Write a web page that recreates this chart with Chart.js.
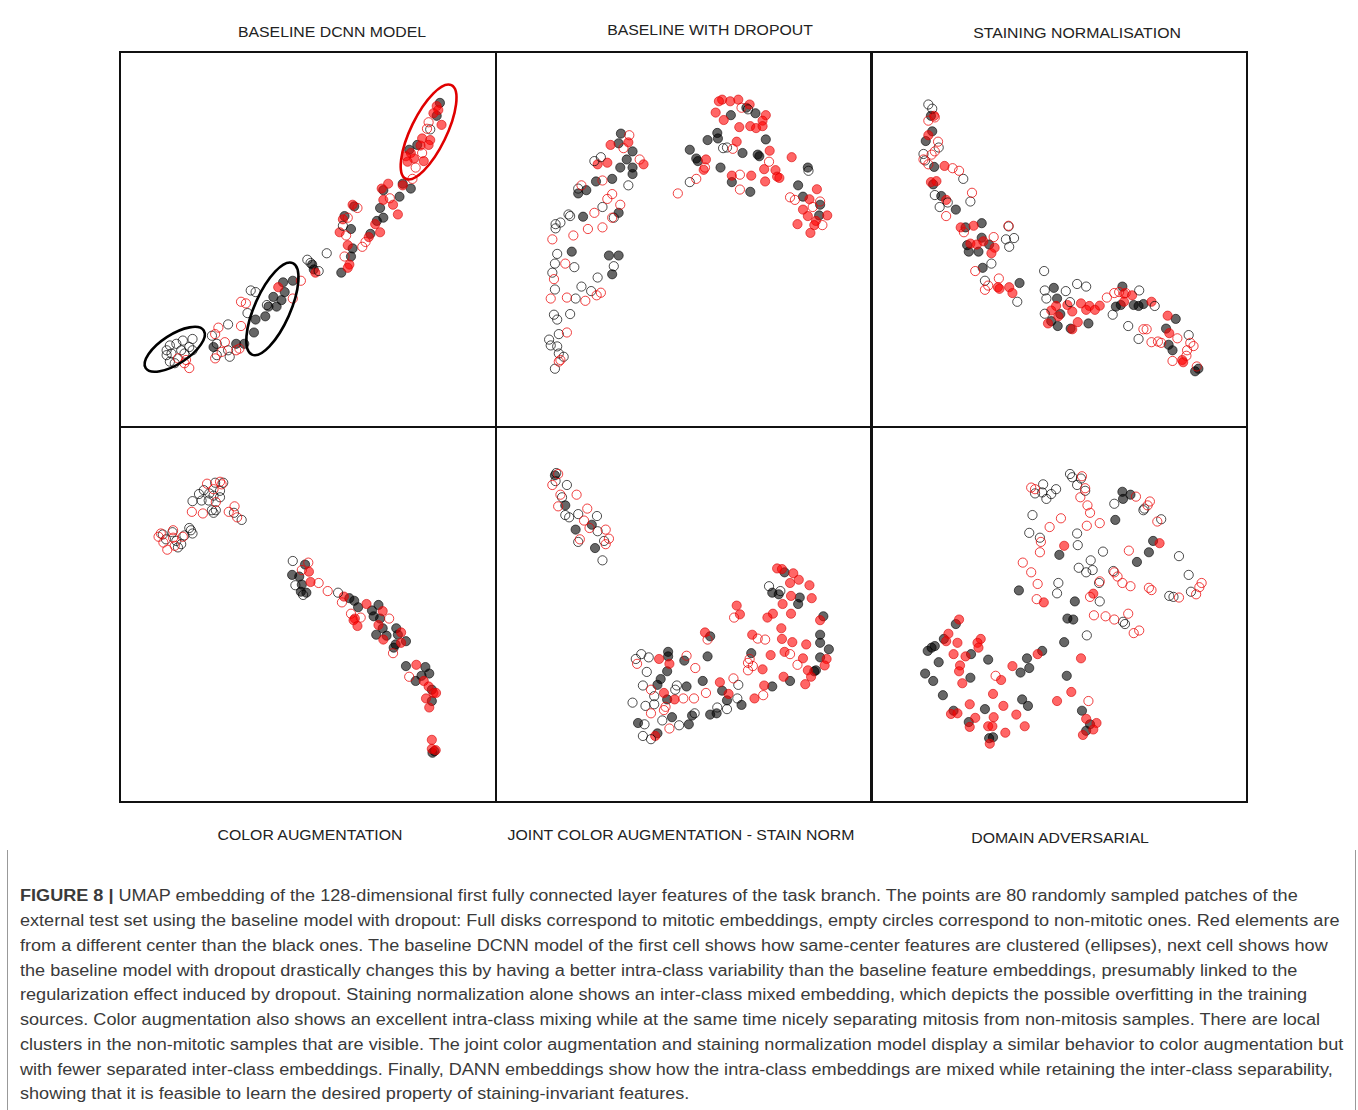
<!DOCTYPE html>
<html>
<head>
<meta charset="utf-8">
<script src="https://cdn.jsdelivr.net/npm/chart.js@4.4.1/dist/chart.umd.min.js"></script>
<style>
  body { margin: 0; background: #fff; width: 1358px; height: 1110px; position: relative; overflow: hidden; font-family: "Liberation Sans", Arial, sans-serif; }
  .panel { position: absolute; width: 376px; height: 376px; }
  .frame { position: absolute; width: 378px; height: 377px; box-sizing: border-box; border: 2px solid #111; pointer-events: none; }
  .title { position: absolute; font-size: 14px; color: #222; white-space: nowrap; transform: translate(-50%, -50%) scaleX(1.13); }
  .caption { position: absolute; left: 0; top: 850px; width: 1358px; height: 260px; }
  .caption .edge { position: absolute; top: 0; width: 1px; height: 260px; background: #999; }
  .caption .line { position: absolute; left: 20px; font-size: 16px; color: #3a3a3a; white-space: nowrap; transform: scaleX(1.13); transform-origin: 0 50%; }
</style>
</head>
<body>

<div class="panel" style="left:119px; top:52px;"><canvas id="c0" width="376" height="376"></canvas></div>
<div class="panel" style="left:495px; top:52px;"><canvas id="c1" width="376" height="376"></canvas></div>
<div class="panel" style="left:871px; top:52px;"><canvas id="c2" width="376" height="376"></canvas></div>
<div class="panel" style="left:119px; top:427px;"><canvas id="c3" width="376" height="376"></canvas></div>
<div class="panel" style="left:495px; top:427px;"><canvas id="c4" width="376" height="376"></canvas></div>
<div class="panel" style="left:871px; top:427px;"><canvas id="c5" width="376" height="376"></canvas></div>

<div class="frame" style="left:119px; top:51px;"></div>
<div class="frame" style="left:495px; top:51px;"></div>
<div class="frame" style="left:870px; top:51px;"></div>
<div class="frame" style="left:119px; top:426px;"></div>
<div class="frame" style="left:495px; top:426px;"></div>
<div class="frame" style="left:870px; top:426px;"></div>

<div class="title" style="left:332px; top:32px;">BASELINE DCNN MODEL</div>
<div class="title" style="left:710px; top:30px;">BASELINE WITH DROPOUT</div>
<div class="title" style="left:1077px; top:33px;">STAINING NORMALISATION</div>
<div class="title" style="left:310px; top:835px;">COLOR AUGMENTATION</div>
<div class="title" style="left:681px; top:835px;">JOINT COLOR AUGMENTATION - STAIN NORM</div>
<div class="title" style="left:1060px; top:838px;">DOMAIN ADVERSARIAL</div>

<div class="caption">
  <div class="edge" style="left:7px;"></div>
  <div class="edge" style="left:1355px;"></div>
  <div class="line" style="top:37px;"><b>FIGURE 8 |</b> UMAP embedding of the 128-dimensional first fully connected layer features of the task branch. The points are 80 randomly sampled patches of the</div>
  <div class="line" style="top:62px;">external test set using the baseline model with dropout: Full disks correspond to mitotic embeddings, empty circles correspond to non-mitotic ones. Red elements are</div>
  <div class="line" style="top:87px;">from a different center than the black ones. The baseline DCNN model of the first cell shows how same-center features are clustered (ellipses), next cell shows how</div>
  <div class="line" style="top:112px;">the baseline model with dropout drastically changes this by having a better intra-class variability than the baseline feature embeddings, presumably linked to the</div>
  <div class="line" style="top:136px;">regularization effect induced by dropout. Staining normalization alone shows an inter-class mixed embedding, which depicts the possible overfitting in the training</div>
  <div class="line" style="top:161px;">sources. Color augmentation also shows an excellent intra-class mixing while at the same time nicely separating mitosis from non-mitosis samples. There are local</div>
  <div class="line" style="top:186px;">clusters in the non-mitotic samples that are visible. The joint color augmentation and staining normalization model display a similar behavior to color augmentation but</div>
  <div class="line" style="top:211px;">with fewer separated inter-class embeddings. Finally, DANN embeddings show how the intra-class embeddings are mixed while retaining the inter-class separability,</div>
  <div class="line" style="top:235px;">showing that it is feasible to learn the desired property of staining-invariant features.</div>
</div>

<script>
// UMAP coordinates (arbitrary units, y grows downwards)
// red = other center, black = same center; disk = mitotic, circle = non-mitotic

// baseline DCNN model
const dcnnRedDisk = [[965,150],[970,162],[955,172],[980,208],[920,250],[945,255],[940,270],[915,272],[885,295],[895,312],[870,305],[875,322],[925,320],[815,390],[795,405],[860,395],[800,440],[830,455],[845,485],[775,515],[790,540],[705,455],[675,500],[665,540],[755,555],[690,580],[695,640],[690,650],[590,665],[475,710]];
const dcnnBlackDisk = [[975,140],[965,180],[905,270],[880,285],[860,390],[800,410],[885,405],[850,430],[790,465],[800,495],[780,505],[710,460],[680,490],[700,530],[760,545],[705,590],[700,615],[670,665],[580,640],[585,655],[520,690],[490,695],[495,725],[460,740],[485,750],[470,770],[445,770],[435,800],[405,810],[400,850],[370,885],[345,885],[275,895]];
const dcnnRedCircle = [[940,200],[935,220],[920,295],[900,340],[890,375],[820,435],[720,465],[690,495],[685,550],[745,570],[735,585],[680,615],[545,690],[520,745],[375,760],[360,755],[360,830],[290,835],[280,855],[355,900],[310,880],[300,910],[280,930],[345,905],[165,930],[190,935],[200,960],[185,945]];
const dcnnBlackCircle = [[945,222],[675,520],[625,605],[575,635],[600,660],[565,625],[405,725],[390,720],[440,765],[380,790],[320,825],[270,860],[285,885],[320,905],[285,920],[325,925],[210,870],[180,875],[160,885],[140,890],[200,895],[130,905],[175,905],[210,905],[145,915],[185,915],[130,920],[140,940],[155,945]];
// same-center clusters marked in the first cell: centre, semi-axes, tilt (deg)
const dcnnEllipses = [
  { cx: 940, cy: 230, rx: 161, ry: 55, tilt: -64, color: '#e00000' },
  { cx: 457, cy: 777, rx: 155, ry: 55, tilt: -66, color: '#000' },
  { cx: 155, cy: 902, rx: 107, ry: 45, tilt: -33, color: '#000' }
];

// baseline with dropout
const dropRedDisk = [[395,262],[340,270],[300,330],[330,325],[442,330],[685,130],[675,135],[710,135],[735,130],[770,145],[665,170],[820,178],[690,193],[810,195],[738,215],[772,212],[790,218],[810,212],[730,260],[832,288],[635,315],[628,347],[900,308],[815,345],[850,348],[715,365],[775,365],[855,368],[862,372],[818,383],[978,407],[955,438],[935,470],[950,490],[1010,488],[975,505],[918,515],[970,518],[958,542]];
const dropBlackDisk = [[372,235],[365,265],[408,290],[390,315],[370,340],[408,340],[408,360],[345,375],[295,383],[265,410],[240,420],[365,480],[255,492],[220,600],[335,612],[365,612],[345,670],[760,155],[712,178],[788,172],[670,233],[672,250],[640,255],[820,253],[585,285],[748,295],[795,300],[800,305],[605,312],[610,320],[680,340],[950,340],[715,385],[772,415],[920,395],[935,430],[988,455],[985,488]];
const dropRedCircle = [[398,240],[380,280],[430,315],[315,380],[250,395],[345,422],[330,437],[370,455],[290,480],[345,495],[270,530],[315,525],[225,550],[160,562],[200,637],[165,685],[310,727],[297,735],[155,745],[205,742],[262,752],[205,850],[185,935],[180,940],[548,420],[605,375],[745,155],[718,282],[632,340],[830,322],[740,362],[740,408],[895,432],[910,440],[988,445],[965,462],[995,518]];
const dropBlackCircle = [[290,320],[310,308],[395,395],[240,405],[315,462],[350,495],[210,485],[215,490],[185,510],[170,515],[170,528],[175,607],[168,637],[228,648],[350,645],[160,665],[300,680],[250,708],[168,717],[280,722],[232,745],[165,795],[215,793],[175,810],[180,855],[150,872],[155,890],[175,893],[180,915],[195,925],[168,962],[585,385],[765,160],[700,278],[688,280],[952,350]];

// staining normalisation
const stainRedDisk = [[178,180],[160,240],[210,335],[168,385],[185,382],[215,440],[260,525],[300,520],[290,575],[310,578],[330,568],[365,588],[355,605],[375,710],[380,715],[410,710],[420,728],[555,768],[590,765],[632,760],[658,768],[690,767],[765,730],[790,735],[765,755],[850,755],[540,782],[562,800],[605,785],[648,780],[675,780],[530,822],[622,818],[605,840],[900,798],[905,852],[945,935],[948,942]];
const stainBlackDisk = [[168,180],[172,228],[152,258],[178,338],[175,392],[200,428],[245,470],[275,525],[325,512],[325,557],[280,580],[348,578],[285,600],[315,600],[328,650],[442,697],[548,712],[558,745],[760,708],[755,765],[740,770],[795,765],[825,762],[810,768],[568,793],[540,815],[560,830],[655,822],[600,838],[925,808],[895,838],[903,888],[915,905],[985,970],[995,962]];
const stainRedCircle = [[180,185],[160,195],[190,260],[180,290],[170,300],[145,315],[160,330],[235,342],[255,350],[295,418],[215,490],[408,520],[270,540],[362,555],[305,660],[345,705],[335,718],[378,683],[712,742],[735,728],[750,725],[770,728],[825,840],[835,840],[850,880],[870,878],[880,882],[930,868],[970,882],[980,892],[960,905],[958,922],[915,938],[990,955]];
const stainBlackCircle = [[160,145],[172,158],[192,278],[145,298],[150,318],[268,375],[180,425],[290,445],[220,448],[195,462],[408,522],[400,562],[425,558],[410,585],[355,637],[335,690],[435,755],[518,660],[620,700],[648,708],[520,720],[585,722],[525,745],[598,756],[812,720],[860,768],[520,792],[730,795],[778,830],[965,858],[810,870]];

// color augmentation
const colorRedDisk = [[570,430],[575,462],[678,507],[748,530],[798,552],[712,575],[708,580],[720,598],[785,595],[855,618],[800,640],[855,650],[902,718],[925,768],[955,805],[940,785],[963,805],[932,822],[942,850],[950,950],[950,978],[962,982]];
const colorBlackDisk = [[558,408],[518,440],[540,445],[548,470],[545,492],[562,495],[695,512],[710,520],[722,540],[785,533],[765,550],[770,568],[790,575],[798,605],[840,605],[778,625],[810,628],[845,625],[870,645],[838,655],[832,665],[870,722],[930,725],[918,752],[942,745],[900,768],[950,795],[950,830],[958,985],[952,990]];
const colorRedCircle = [[255,158],[295,152],[300,160],[275,175],[282,215],[208,245],[242,250],[340,228],[322,245],[348,262],[112,312],[150,302],[180,322],[105,322],[150,325],[120,340],[155,350],[132,362],[568,402],[548,425],[600,465],[628,490],[672,525],[700,560],[730,572],[818,575],[830,682],[880,755]];
const colorBlackCircle = [[280,155],[305,155],[245,178],[295,180],[230,190],[262,188],[275,195],[210,212],[238,210],[260,210],[295,200],[270,240],[282,240],[275,248],[338,248],[362,270],[200,295],[205,302],[185,318],[210,312],[118,315],[148,308],[128,330],[160,335],[175,345],[165,355],[520,397],[528,472],[552,502],[660,495]];

// joint color augmentation - stain norm
const jointRedDisk = [[855,420],[870,422],[905,435],[922,455],[895,465],[955,472],[898,505],[962,512],[872,530],[730,535],[740,562],[842,560],[825,572],[898,560],[988,580],[868,605],[632,618],[778,625],[870,638],[902,648],[945,655],[878,678],[835,688],[935,698],[1008,700],[1002,720],[810,732],[950,735],[960,755],[942,778],[875,755],[490,700],[522,715],[678,772],[705,808],[815,782],[785,822],[505,805],[538,825],[478,938]];
const jointBlackDisk = [[168,132],[200,225],[282,285],[232,300],[292,357],[878,432],[840,495],[860,500],[925,510],[920,530],[998,568],[648,630],[988,625],[988,650],[1015,670],[775,682],[988,695],[970,738],[975,735],[895,768],[640,692],[568,705],[518,678],[518,692],[515,738],[495,762],[485,780],[625,768],[685,798],[840,785],[575,785],[515,825],[700,828],[745,842],[592,875],[648,872],[668,868],[530,880],[425,898],[582,902],[485,930]];
const jointRedCircle = [[178,128],[160,162],[185,192],[235,192],[178,228],[268,235],[258,272],[275,295],[325,300],[335,328],[245,330],[325,345],[722,572],[640,640],[818,640],[795,637],[895,685],[918,718],[770,700],[765,712],[780,722],[765,735],[575,690],[422,715],[602,728],[720,760],[812,812],[465,795],[565,822],[598,822],[635,805],[510,848],[505,858],[465,868],[522,915]];
const jointBlackCircle = [[172,125],[170,150],[205,162],[190,200],[200,255],[212,262],[240,252],[298,258],[300,305],[240,338],[320,335],[315,395],[830,475],[865,490],[435,685],[458,695],[418,700],[452,740],[735,780],[440,782],[545,782],[540,795],[475,815],[408,835],[448,845],[475,840],[732,822],[670,850],[700,855],[600,868],[500,890],[445,902],[552,905],[440,938],[465,948]];

// domain adversarial
const dannRedDisk = [[580,350],[875,342],[517,525],[670,498],[255,578],[222,622],[215,645],[250,650],[238,685],[275,692],[322,638],[312,650],[315,665],[258,720],[255,738],[265,775],[385,765],[420,722],[498,685],[632,698],[288,840],[360,808],[392,845],[230,870],[250,868],[305,882],[288,910],[362,880],[432,872],[345,908],[358,908],[398,928],[458,908],[350,962],[558,830],[602,802],[648,885],[680,898],[670,918],[638,935]];
const dannBlackDisk = [[760,183],[785,192],[762,205],[738,270],[855,335],[565,378],[842,370],[805,400],[440,488],[613,522],[590,575],[608,578],[245,592],[208,638],[180,660],[170,665],[158,675],[292,685],[192,710],[345,702],[150,745],[175,768],[290,758],[445,742],[472,728],[465,698],[512,675],[580,648],[588,752],[205,812],[450,825],[468,845],[335,855],[238,860],[285,895],[348,945],[360,942],[635,860],[660,902],[648,922]];
const dannRedCircle = [[635,135],[478,170],[490,175],[645,172],[630,200],[652,225],[660,248],[802,198],[845,213],[838,225],[570,265],[535,292],[650,288],[690,280],[868,275],[508,338],[505,370],[780,365],[452,402],[478,432],[735,432],[745,445],[690,460],[760,465],[785,475],[842,480],[850,487],[1005,465],[998,478],[988,500],[498,468],[495,515],[935,510],[660,508],[672,565],[708,568],[735,578],[778,560],[795,620],[812,612],[368,752],[655,830]];
const dannBlackCircle = [[598,128],[605,138],[632,142],[515,160],[490,188],[512,185],[555,175],[540,190],[525,205],[620,162],[645,180],[735,220],[825,240],[828,235],[482,255],[880,268],[472,310],[505,325],[620,312],[622,348],[700,368],[935,382],[625,418],[648,432],[662,395],[668,425],[732,428],[688,465],[965,440],[972,492],[562,465],[558,497],[905,505],[918,508],[690,522],[762,585],[768,592],[650,627]];

const panels = [
  { id: 'c0', sets: [dcnnRedCircle, dcnnBlackCircle, dcnnRedDisk, dcnnBlackDisk], ellipses: dcnnEllipses },
  { id: 'c1', sets: [dropRedCircle, dropBlackCircle, dropRedDisk, dropBlackDisk] },
  { id: 'c2', sets: [stainRedCircle, stainBlackCircle, stainRedDisk, stainBlackDisk] },
  { id: 'c3', sets: [colorRedCircle, colorBlackCircle, colorRedDisk, colorBlackDisk] },
  { id: 'c4', sets: [jointRedCircle, jointBlackCircle, jointRedDisk, jointBlackDisk] },
  { id: 'c5', sets: [dannRedCircle, dannBlackCircle, dannRedDisk, dannBlackDisk] }
];

const styles = [
  { label: 'non-mitotic (red)',   backgroundColor: 'rgba(0,0,0,0)',    borderColor: 'rgba(235,0,0,0.75)' },
  { label: 'non-mitotic (black)', backgroundColor: 'rgba(0,0,0,0)',    borderColor: 'rgba(0,0,0,0.7)' },
  { label: 'mitotic (red)',       backgroundColor: 'rgba(255,0,0,0.6)', borderColor: 'rgba(215,0,0,0.6)' },
  { label: 'mitotic (black)',     backgroundColor: 'rgba(0,0,0,0.6)',  borderColor: 'rgba(0,0,0,0.6)' }
];

// draws the cluster ellipses through the chart scales
const ellipsePlugin = {
  id: 'ellipses',
  afterDatasetsDraw(chart, args, opts) {
    if (!opts.items) return;
    const xs = chart.scales.x, ys = chart.scales.y;
    const ctx = chart.ctx;
    const unit = Math.abs(xs.getPixelForValue(1) - xs.getPixelForValue(0));
    opts.items.forEach(e => {
      ctx.save();
      ctx.beginPath();
      ctx.ellipse(xs.getPixelForValue(e.cx), ys.getPixelForValue(e.cy), e.rx * unit, e.ry * unit, e.tilt * Math.PI / 180, 0, Math.PI * 2);
      ctx.lineWidth = 2.6;
      ctx.strokeStyle = e.color;
      ctx.stroke();
      ctx.restore();
    });
  }
};

panels.forEach(p => {
  new Chart(document.getElementById(p.id), {
    type: 'scatter',
    data: {
      datasets: p.sets.map((pts, i) => ({
        label: styles[i].label,
        data: pts.map(d => ({ x: d[0], y: d[1] })),
        backgroundColor: styles[i].backgroundColor,
        borderColor: styles[i].borderColor,
        borderWidth: 1,
        pointRadius: 4.6,
        pointHoverRadius: 4.6
      }))
    },
    options: {
      responsive: false,
      animation: false,
      layout: { padding: 0 },
      plugins: {
        legend: { display: false },
        tooltip: { enabled: false },
        ellipses: { items: p.ellipses || null }
      },
      scales: {
        x: { display: false, min: 0, max: 1128 },
        y: { display: false, min: 0, max: 1128, reverse: true }
      }
    },
    plugins: [ellipsePlugin]
  });
});
</script>
</body>
</html>
